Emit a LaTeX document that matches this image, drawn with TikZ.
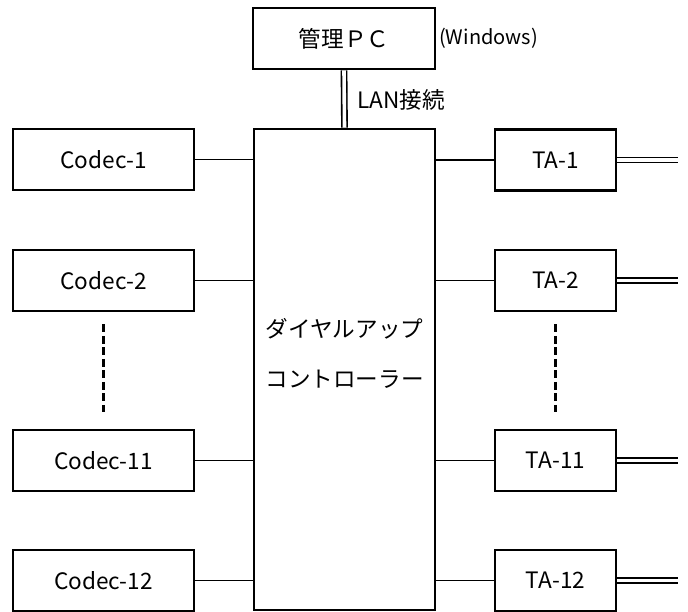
\documentclass[tikz,border=0pt]{standalone}
\usepackage{fontspec}
\setmainfont{Noto Sans CJK JP}
\newcommand\dgfont{\fontsize{22.6}{27}\selectfont}
\begin{document}
\begin{tikzpicture}[x=1pt,y=-1pt,
  box/.style={draw, line width=2.7pt, inner sep=0pt, font=\dgfont},
  codecbox/.style={box, minimum width=181pt, minimum height=61pt},
  tabox/.style={box, minimum width=121pt, minimum height=61pt},
  conn/.style={line width=1.5pt},
  dbl/.style={line width=1.6pt, double, double distance=3.6pt},
  dotline/.style={line width=2.6pt, dash pattern=on 8pt off 3.5pt},
  lbl/.style={inner sep=0pt, font=\dgfont}]
\useasboundingbox (0,0) rectangle (688,612);
% management PC
\node[box, minimum width=182pt, minimum height=61pt] (pc) at (344,38.5) {管理ＰＣ};
\node[lbl, anchor=west, font=\fontsize{20}{24}\selectfont] (win) at (439,38) {(Windows)};
% controller
\node[box, minimum width=181pt, minimum height=481pt] (ctrl) at (344.5,369.5) {};
\node[lbl, align=center, font=\fontsize{22.6}{50}\selectfont] (ctrltxt) at (344.5,353) {ダイヤルアップ\\コントローラー};
% LAN
\draw[dbl] (pc.south) -- (ctrl.north);
\node[lbl, anchor=west] (lan) at (357,100) {LAN接続};
% codecs
\node[codecbox] (c1) at (103.5,159.5) {Codec-1};
\node[codecbox] (c2) at (103.5,280.5) {Codec-2};
\node[codecbox] (c11) at (103.5,460.5) {Codec-11};
\node[codecbox] (c12) at (103.5,580.5) {Codec-12};
% TAs
\node[tabox] (t1) at (555.5,160) {TA-1};
\node[tabox] (t2) at (555.5,280.5) {TA-2};
\node[tabox] (t11) at (555.5,460.5) {TA-11};
\node[tabox] (t12) at (555.5,580.5) {TA-12};
% connectors
\foreach \n in {c1,c2,c11,c12} \draw[conn] (\n.east) -- (\n.east -| ctrl.west);
\foreach \n in {t1,t2,t11,t12} \draw[conn] (\n.west -| ctrl.east) -- (\n.west);
% outgoing double lines
\foreach \n in {t1,t2,t11,t12} {
  \coordinate (\n o) at ([xshift=61pt]\n.east);
  \draw[dbl] (\n.east) -- (\n o);
}
% dashed continuation
\draw[dotline] ([yshift=-12pt]c2.south) -- ([yshift=17pt]c11.north);
\draw[dotline] ([yshift=-12pt]t2.south) -- ([yshift=17pt]t11.north);
\end{tikzpicture}
\end{document}
